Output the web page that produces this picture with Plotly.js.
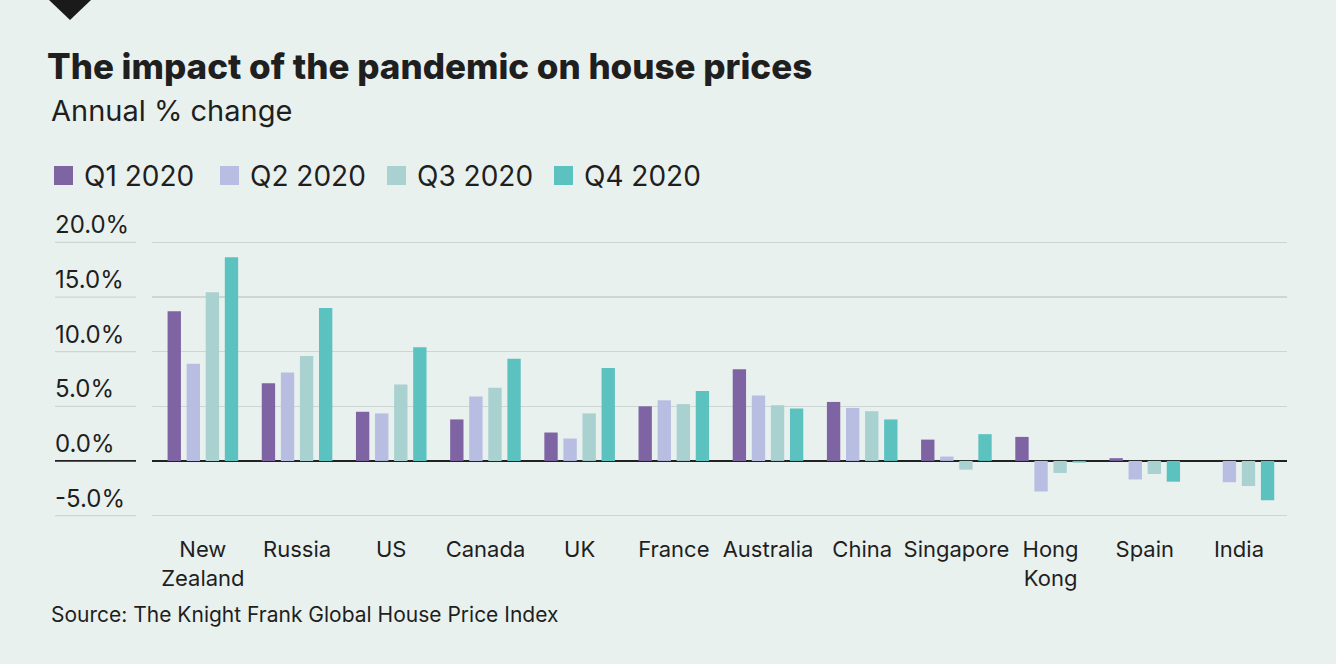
<!DOCTYPE html>
<html>
<head>
<meta charset="utf-8">
<script src="https://cdn.plot.ly/plotly-3.0.1.min.js"></script>
<style>
  html, body { margin: 0; padding: 0; background: #e9f1ef; }
  #chart { width: 1336px; height: 664px; }
</style>
</head>
<body>
<div id="chart"></div>
<script>
// ---- data ----
const categories = ["New<br>Zealand", "Russia", "US", "Canada", "UK", "France", "Australia", "China", "Singapore", "Hong<br>Kong", "Spain", "India"];
const seriesNames = ["Q1 2020", "Q2 2020", "Q3 2020", "Q4 2020"];
const q1_2020 = [13.7, 7.1, 4.5, 3.8, 2.6, 5.0, 8.4, 5.4, 1.95, 2.2, 0.25, 0];
const q2_2020 = [8.9, 8.1, 4.35, 5.9, 2.05, 5.55, 6.0, 4.85, 0.4, -2.8, -1.7, -1.95];
const q3_2020 = [15.45, 9.6, 7.0, 6.7, 4.35, 5.2, 5.1, 4.55, -0.8, -1.1, -1.2, -2.3];
const q4_2020 = [18.65, 14.0, 10.4, 9.35, 8.5, 6.4, 4.8, 3.8, 2.45, -0.15, -1.9, -3.6];
const yTickVals = [20, 15, 10, 5, 0, -5];
const yTickText = ["20.0%", "15.0%", "10.0%", "5.0%", "0.0%", "-5.0%"];

// ---- style ----
const colors = ["#7e64a3", "#b8bde2", "#a8d1d0", "#5cc2c0"];
const BG = "#e9f1ef";
const FONT = "Inter, 'Open Sans', sans-serif";
const TXT = "#1f1f1f";
const W = 1336, H = 664, L = 152, R = 49, T = 237, B = 143;
const PW = W - L - R, PH = H - T - B;
const px = x => (x - L) / PW;
const py = y => (H - B - y) / PH;

const allSeries = [q1_2020, q2_2020, q3_2020, q4_2020];
const traces = allSeries.map((vals, i) => ({
  type: "bar",
  name: seriesNames[i],
  x: categories,
  y: vals,
  marker: { color: colors[i], line: { width: 0 } },
  hoverinfo: "x+y+name"
}));

const shapes = [];
const annotations = [];

// y tick labels (left aligned above gridlines) and small grid segments beneath them
yTickVals.forEach((v, i) => {
  annotations.push({
    xref: "paper", yref: "y", x: px(53), y: v, xanchor: "left", yanchor: "bottom",
    yshift: 1, text: yTickText[i], showarrow: false,
    font: { family: FONT, size: 24, color: TXT }
  });
  shapes.push({
    type: "line", xref: "paper", yref: "y", x0: px(55), x1: px(136), y0: v, y1: v,
    line: { color: v === 0 ? "#222222" : "#cdd6d4", width: v === 0 ? 1.6 : 1.2 }
  });
});

// custom legend
const legendX = [54, 220, 387, 554];
seriesNames.forEach((n, i) => {
  shapes.push({
    type: "rect", xref: "paper", yref: "paper",
    x0: px(legendX[i]), x1: px(legendX[i] + 19), y0: py(166), y1: py(185),
    fillcolor: colors[i], line: { width: 0 }
  });
  annotations.push({
    xref: "paper", yref: "paper", x: px(legendX[i] + 28), y: py(176),
    xanchor: "left", yanchor: "middle", text: n, showarrow: false,
    font: { family: FONT, size: 28, color: TXT }
  });
});

// top-left triangle marker
shapes.push({
  type: "path", xref: "paper", yref: "paper",
  path: `M ${px(49)} ${py(0)} L ${px(91)} ${py(0)} L ${px(70)} ${py(20)} Z`,
  fillcolor: "#1a1a1a", line: { width: 0 }
});

// subtitle
annotations.push({
  xref: "paper", yref: "paper", x: px(49), y: py(110), xanchor: "left", yanchor: "middle",
  text: "Annual % change", showarrow: false,
  font: { family: FONT, size: 29, color: TXT }
});
// source
annotations.push({
  xref: "paper", yref: "paper", x: px(49), y: py(614), xanchor: "left", yanchor: "middle",
  text: "Source: The Knight Frank Global House Price Index", showarrow: false,
  font: { family: FONT, size: 21, color: TXT }
});

const layout = {
  width: W, height: H,
  paper_bgcolor: BG, plot_bgcolor: BG,
  margin: { l: L, r: R, t: T, b: B, pad: 0 },
  showlegend: false,
  barmode: "group",
  bargap: 0.19,
  bargroupgap: 0.3,
  title: {
    text: "The impact of the pandemic on house prices",
    xref: "container", yref: "container",
    x: 47 / W, xanchor: "left", y: 1 - 67 / H, yanchor: "middle",
    font: { family: FONT, size: 35, color: TXT, weight: 800 }
  },
  xaxis: {
    type: "category",
    range: [-0.54, 11.51],
    showgrid: false, zeroline: false, showline: false,
    ticks: "", ticklabelstandoff: 13,
    tickfont: { family: FONT, size: 22, color: TXT },
    fixedrange: true
  },
  yaxis: {
    range: [-5.5, 20.5],
    tickvals: yTickVals,
    showticklabels: false,
    showgrid: true, gridcolor: "#cdd6d4", gridwidth: 1.2,
    zeroline: true, zerolinecolor: "#222222", zerolinewidth: 1.6,
    showline: false, ticks: "",
    fixedrange: true
  },
  shapes: shapes,
  annotations: annotations
};

Plotly.newPlot("chart", traces, layout, { displayModeBar: false, staticPlot: true });
</script>
</body>
</html>
